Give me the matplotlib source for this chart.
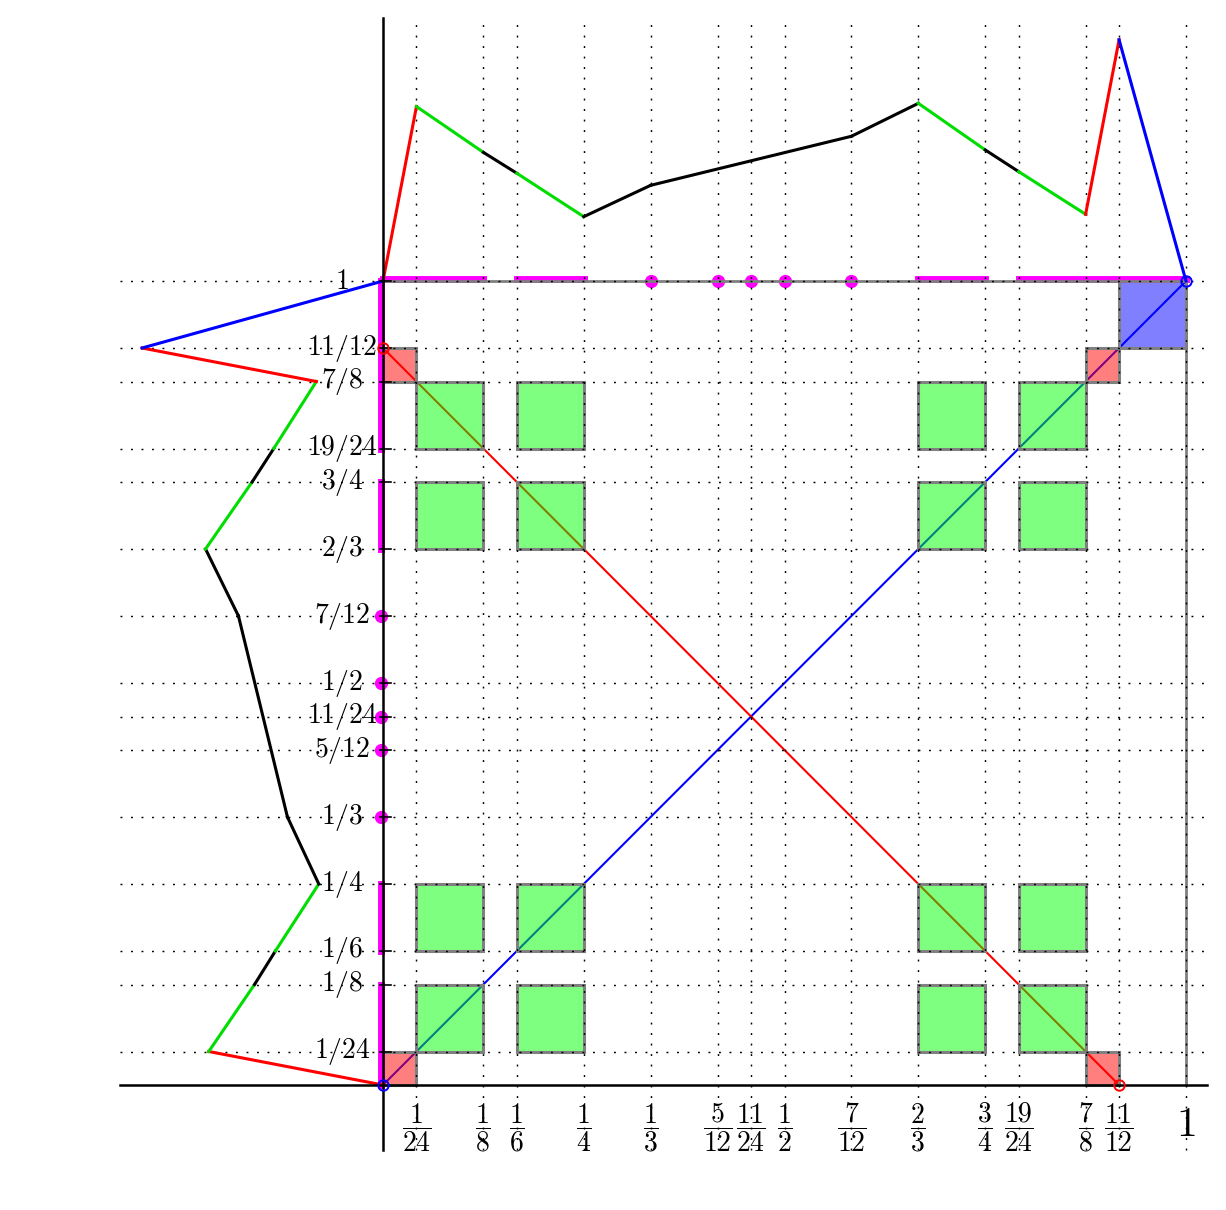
import matplotlib
matplotlib.use("Agg")
import matplotlib.pyplot as plt
from matplotlib.patches import Rectangle

plt.rcParams["mathtext.fontset"] = "cm"

# tick positions and labels
ticks = [1/24, 1/8, 1/6, 1/4, 1/3, 5/12, 11/24, 1/2, 7/12, 2/3, 3/4, 19/24, 7/8, 11/12, 1]
tick_num = ["1", "1", "1", "1", "1", "5", "11", "1", "7", "2", "3", "19", "7", "11", None]
tick_den = ["24", "8", "6", "4", "3", "12", "24", "2", "12", "3", "4", "24", "8", "12", None]

# piecewise linear profile drawn above (y = 1 + f) and to the left (x = -f)
brk_x = [0, 1/24, 1/8, 1/6, 1/4, 1/3, 7/12, 2/3, 3/4, 19/24, 7/8, 11/12, 1]
brk_f = [0, 0.217, 0.160, 0.134, 0.080, 0.119, 0.180, 0.221, 0.163, 0.136, 0.083, 0.300, 0]
seg_colors = ["red", "#00dd00", "black", "#00dd00", "black", "black", "black",
              "#00dd00", "black", "#00dd00", "red", "blue"]

# squares
green_iv = [(1/24, 1/8), (1/6, 1/4), (2/3, 3/4), (19/24, 7/8)]
red_sq = [(0, 1/24, 7/8, 11/12), (7/8, 11/12, 7/8, 11/12),
          (0, 1/24, 0, 1/24), (7/8, 11/12, 0, 1/24)]
blue_sq = [(11/12, 1, 11/12, 1)]

# magenta marks on the edges
mag_iv = [(0, 1/8), (1/6, 1/4), (2/3, 3/4), (19/24, 1)]
mag_pts = [1/3, 5/12, 11/24, 1/2, 7/12]

# diagonals
blue_diag = ([0, 1], [0, 1])
red_diag = ([0, 11/12], [11/12, 0])

fig = plt.figure(figsize=(12.26, 12.10), dpi=100)
ax = fig.add_axes([0, 0, 1, 1])
ax.set_xlim((0 - 383) / 803, (1226 - 383) / 803)
ax.set_ylim((1085 - 1210) / 804, 1085 / 804)
ax.axis("off")

XL, XR = -0.3275, 1.026
YB, YT = -0.081, 1.327
dots = (0, (1.3, 5.9))

# grid
for t in ticks:
    ax.plot([t, t], [YB, YT], color="black", lw=1.05, ls=dots, zorder=5)
    ax.plot([XL, XR], [t, t], color="black", lw=1.05, ls=dots, zorder=5)

# diagonals under the squares
ax.plot(*blue_diag, color="blue", lw=1.5, zorder=1)
ax.plot(*red_diag, color="red", lw=1.5, zorder=1)

def square(x0, x1, y0, y1, fc):
    ax.add_patch(Rectangle((x0, y0), x1 - x0, y1 - y0, facecolor=fc, alpha=0.5,
                           edgecolor="none", zorder=2))
    ax.add_patch(Rectangle((x0, y0), x1 - x0, y1 - y0, facecolor="none",
                           edgecolor="gray", lw=2.2, zorder=2.5))

for gx in green_iv:
    for gy in green_iv:
        square(gx[0], gx[1], gy[0], gy[1], "#00ff00")
for s in red_sq:
    square(*s, "#ff0000")
for s in blue_sq:
    square(*s, "#0000ff")

# magenta marks
for a, b in mag_iv:
    ax.plot([a, b], [1.003, 1.003], color="magenta", lw=5,
            solid_capstyle="projecting", zorder=3)
    ax.plot([-0.002, -0.002], [a, b], color="magenta", lw=5,
            solid_capstyle="projecting", zorder=3)
ax.plot(mag_pts, [1.0] * len(mag_pts), "o", color="magenta", ms=8.5, zorder=3)
ax.plot([-0.002] * len(mag_pts), mag_pts, "o", color="magenta", ms=8.5, zorder=3)

# unit square top/right edges
ax.plot([0, 1], [1, 1], color="gray", lw=2.0, zorder=4)
ax.plot([1, 1], [0, 1], color="gray", lw=2.0, zorder=4)

# profiles
for i, c in enumerate(seg_colors):
    xs = brk_x[i:i + 2]
    fs = brk_f[i:i + 2]
    ax.plot(xs, [1 + v for v in fs], color=c, lw=2.2, zorder=6)
    ax.plot([-v for v in fs], xs, color=c, lw=2.2, zorder=6)

# axes
ax.plot([XL, XR], [0, 0], color="black", lw=1.8, zorder=7)
ax.plot([0, 0], [YB, YT], color="black", lw=1.8, zorder=7)
for t in ticks:
    ax.plot([-0.004, 0.01], [t, t], color="black", lw=1.2, zorder=7)

# open circles
ax.plot([0, 1], [0, 1], "o", mfc="none", mec="blue", ms=7.5, mew=1.4, zorder=8)
ax.plot([0, 11/12], [11/12, 0], "o", mfc="none", mec="red", ms=7.5, mew=1.4, zorder=8)

# labels
for t, n, d in zip(ticks, tick_num, tick_den):
    if n is None:
        ax.text(t, -0.0485, "$1$", fontsize=30, ha="center", va="center", zorder=3)
        ax.text(-0.051, t, "$1$", fontsize=20, ha="center", va="center", zorder=3)
    else:
        ax.text(t, -0.0525, r"$\dfrac{%s}{%s}$" % (n, d), fontsize=20,
                ha="center", va="center", zorder=3)
        ax.text(-0.051, t, "$%s/%s$" % (n, d), fontsize=20,
                ha="center", va="center", zorder=3)

fig.savefig("out.png", dpi=100)
